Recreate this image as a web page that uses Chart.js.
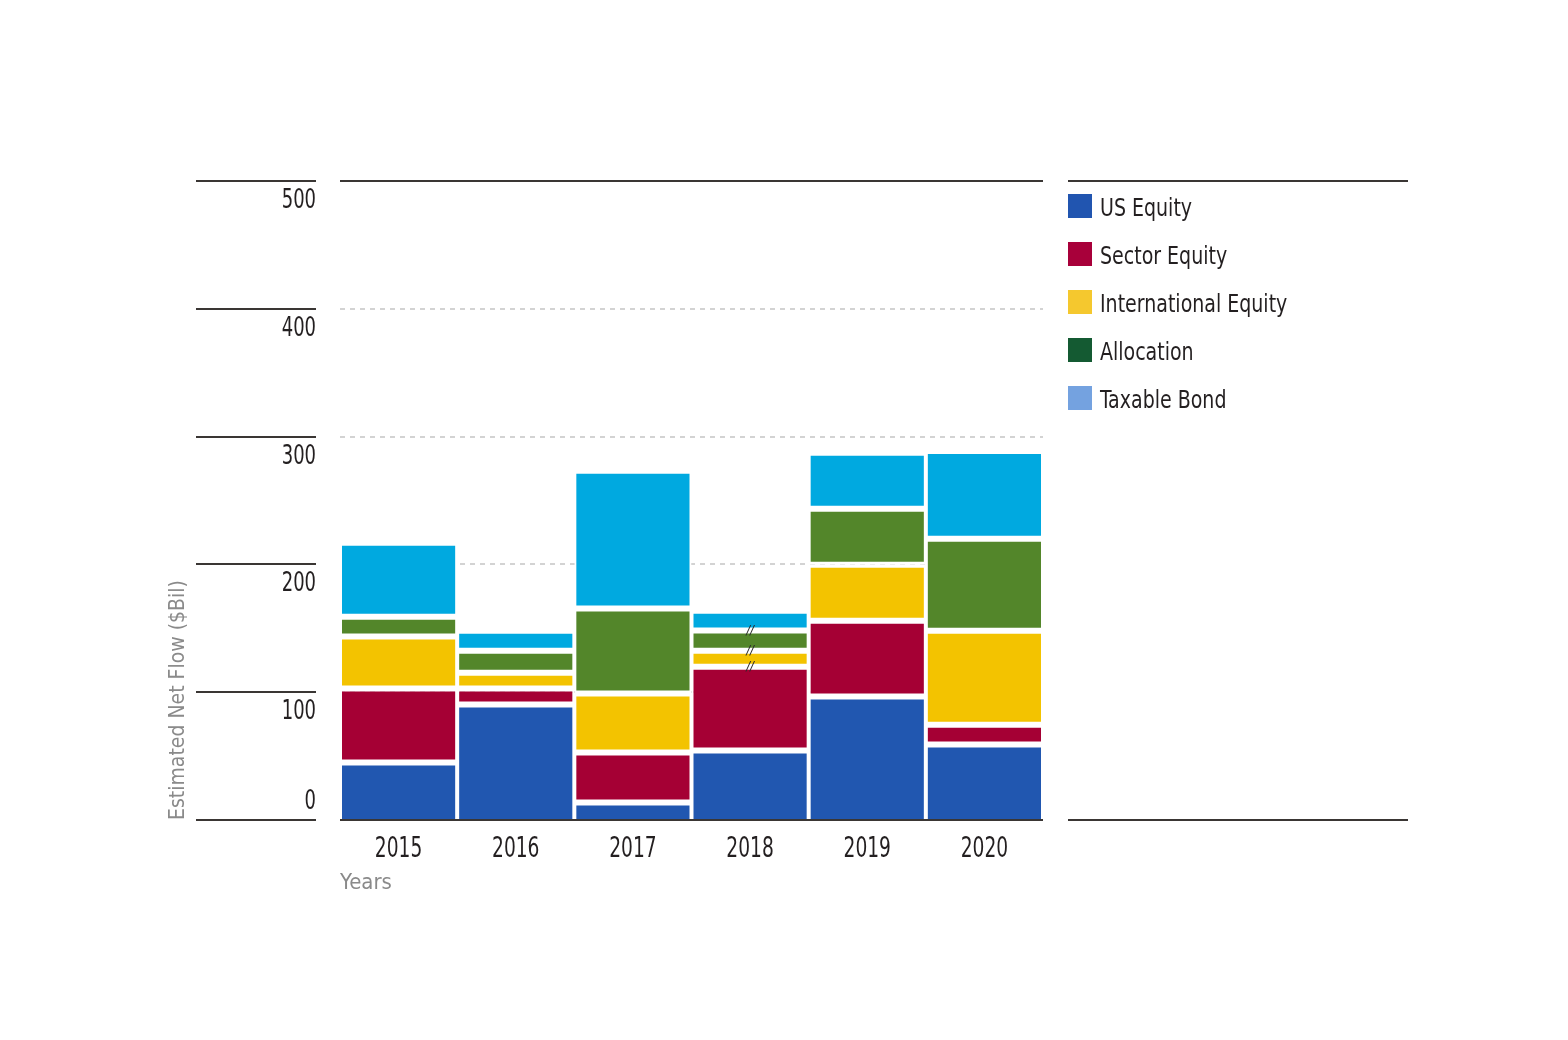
<!DOCTYPE html>
<html>
<head>
<meta charset="utf-8">
<script src="https://cdn.jsdelivr.net/npm/chart.js@4.4.1/dist/chart.umd.min.js"></script>
<style>
  html, body { margin: 0; padding: 0; background: #ffffff; }
  #wrap { width: 1568px; height: 1040px; position: relative; }
</style>
</head>
<body>
<div id="wrap"><canvas id="c"></canvas></div>
<script>
// ---- data ----
const years = ['2015', '2016', '2017', '2018', '2019', '2020'];
const seriesNames = ['US Equity', 'Sector Equity', 'International Equity', 'Allocation', 'Taxable Bond'];
const usEquity            = [45.0, 90.3, 13.7, 54.3, 96.6, 59.0];
const sectorEquity        = [57.8, 12.5, 39.1, 65.7, 59.4, 15.6];
const internationalEquity = [40.7, 12.5, 46.2, 12.5, 43.8, 73.5];
const allocation          = [15.6, 17.2, 66.4, 15.7, 43.8, 71.9];
const taxableBond         = [57.9, 15.6, 107.9, 15.6, 43.7, 68.8];
const yTicks = [0, 100, 200, 300, 400, 500];
const yTitle = 'Estimated Net Flow ($Bil)';
const xTitle = 'Years';
const breakYear = '2018';

// ---- styles ----
const barColors    = ['#2157b0', '#a50034', '#f3c300', '#53862a', '#00a9e0'];
const legendColors = ['#2155b0', '#a8003a', '#f5c82e', '#145a32', '#74a2e0'];
const FONT = "'DejaVu Sans Condensed','DejaVu Sans',sans-serif";
const DARK = '#3a3634';
const TEXT = '#231f20';
const GREY = '#8a8a8a';

const seriesValues = [usEquity, sectorEquity, internationalEquity, allocation, taxableBond];

const datasets = seriesNames.map((name, i) => ({
  label: name,
  data: seriesValues[i],
  backgroundColor: barColors[i],
  borderColor: '#ffffff',
  borderWidth: { top: 3, bottom: i === 0 ? 0 : 3, left: 2, right: 2 },
  borderSkipped: false,
  inflateAmount: 0,
  categoryPercentage: 1.0,
  barPercentage: 1.0
}));

function narrowText(ctx, text, x, y, sx) {
  ctx.save();
  ctx.translate(x, y);
  ctx.scale(sx, 1);
  ctx.fillText(text, 0, 0);
  ctx.restore();
}

const decor = {
  id: 'decor',
  beforeDatasetsDraw(chart) {
    const { ctx, chartArea: a, scales: { y } } = chart;
    ctx.save();
    ctx.strokeStyle = '#d3d3d3';
    ctx.lineWidth = 2;
    ctx.setLineDash([5, 5]);
    yTicks.forEach(v => {
      if (v === y.min || v === y.max) return;
      const py = Math.round(y.getPixelForValue(v));
      ctx.beginPath(); ctx.moveTo(a.left, py); ctx.lineTo(a.right, py); ctx.stroke();
    });
    ctx.restore();
  },
  afterDatasetsDraw(chart) {
    const { ctx, chartArea: a, scales: { x, y } } = chart;
    ctx.save();
    // solid top / bottom lines across plot
    ctx.strokeStyle = DARK;
    ctx.lineWidth = 2;
    [y.min, y.max].forEach(v => {
      const py = Math.round(y.getPixelForValue(v));
      ctx.beginPath(); ctx.moveTo(a.left, py); ctx.lineTo(a.right, py); ctx.stroke();
    });
    // y tick rules + labels
    ctx.font = '27px ' + FONT;
    ctx.fillStyle = TEXT;
    ctx.textAlign = 'right';
    ctx.textBaseline = 'alphabetic';
    yTicks.forEach(v => {
      const py = Math.round(y.getPixelForValue(v));
      ctx.beginPath(); ctx.moveTo(a.left - 144, py); ctx.lineTo(a.left - 24, py); ctx.stroke();
      const by = v === y.min ? py - 11 : py + 27;
      narrowText(ctx, String(v), a.left - 24, by, 0.74);
    });
    // x category labels
    ctx.font = '28px ' + FONT;
    ctx.textAlign = 'center';
    chart.data.labels.forEach((lab, i) => {
      narrowText(ctx, lab, x.getPixelForValue(i), a.bottom + 37, 0.74);
    });
    // break marks on the 2018 bar
    const bi = years.indexOf(breakYear);
    ctx.fillStyle = '#2a2a2a';
    ctx.font = 'italic 13px ' + FONT;
    ctx.textAlign = 'center';
    ctx.textBaseline = 'middle';
    [1, 2, 3].forEach(d => {
      const el = chart.getDatasetMeta(d).data[bi];
      if (el) ctx.fillText('//', el.x, el.y);
    });
    // legend
    const lx = a.right + 25;
    const top = Math.round(y.getPixelForValue(y.max));
    const bot = Math.round(y.getPixelForValue(y.min));
    ctx.strokeStyle = DARK;
    ctx.lineWidth = 2;
    [top, bot].forEach(py => { ctx.beginPath(); ctx.moveTo(lx, py); ctx.lineTo(lx + 340, py); ctx.stroke(); });
    ctx.font = '24px ' + FONT;
    ctx.textAlign = 'left';
    ctx.textBaseline = 'alphabetic';
    chart.data.datasets.forEach((ds, i) => {
      const by = top + 13 + i * 48;
      ctx.fillStyle = legendColors[i];
      ctx.fillRect(lx, by, 24, 24);
      ctx.fillStyle = TEXT;
      narrowText(ctx, ds.label, lx + 32, by + 22, 0.88);
    });
    ctx.restore();
  }
};

new Chart(document.getElementById('c'), {
  type: 'bar',
  data: { labels: years, datasets },
  plugins: [decor],
  options: {
    responsive: true,
    maintainAspectRatio: false,
    animation: false,
    devicePixelRatio: 1,
    layout: { padding: { left: 153, right: 525, top: 181, bottom: 143.8 } },
    plugins: { legend: { display: false }, tooltip: { enabled: false } },
    scales: {
      x: {
        stacked: true,
        offset: true,
        grid: { display: false, drawTicks: false },
        border: { display: false },
        ticks: { display: false },
        title: { display: true, text: xTitle, align: 'start', color: GREY,
                 font: { family: FONT, size: 22 }, padding: { top: 49.8, bottom: 0 } }
      },
      y: {
        stacked: true,
        min: 0, max: 500,
        grid: { display: false, drawTicks: false },
        border: { display: false },
        ticks: { display: false, stepSize: 100 },
        title: { display: true, text: yTitle, align: 'start', color: GREY,
                 font: { family: FONT, size: 21 }, padding: { top: 13, bottom: 0 } },
        afterFit(scale) { scale.width = 187; }
      }
    }
  }
});
</script>
</body>
</html>
